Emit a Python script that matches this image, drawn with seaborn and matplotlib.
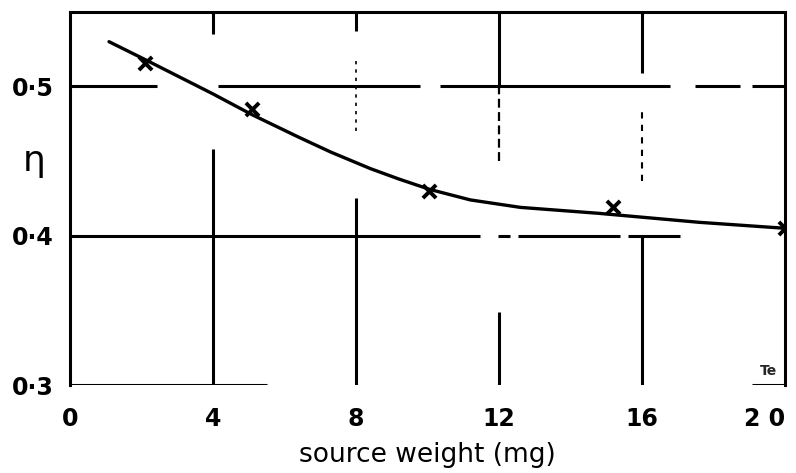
import pandas as pd
import seaborn as sns
import matplotlib.pyplot as plt

# measured points (source weight in mg, efficiency eta)
weight = [2.1, 5.1, 10.05, 15.2, 20.0]
eta = [0.516, 0.485, 0.430, 0.419, 0.405]

# hand-drawn smooth curve through the points
curve_w = [1.09, 2.1, 4.0, 5.1, 6.4, 7.3, 8.4, 9.2, 10.07, 11.2, 12.6, 14.8, 17.6, 20.0]
curve_eta = [0.530, 0.518, 0.495, 0.481, 0.466, 0.456, 0.445, 0.438, 0.431, 0.424, 0.419, 0.415, 0.409, 0.405]

x_ticks = [0, 4, 8, 12, 16, 20]
x_labels = ['0', '4', '8', '12', '16', '2 0']
y_ticks = [0.3, 0.4, 0.5]
y_labels = ['0·3', '0·4', '0·5']

pts = pd.DataFrame({'weight': weight, 'eta': eta})
curve = pd.DataFrame({'weight': curve_w, 'eta': curve_eta})

sns.set_style('white')
plt.rcParams['font.family'] = ['DejaVu Sans']

fig = plt.figure(figsize=(7.96, 4.73), dpi=100)
ax = fig.add_axes([0.088, 0.186, 0.898, 0.789])

lw = 2.2


def hseg(y, starts, ends, **kw):
    ax.hlines([y] * len(starts), starts, ends, color='black', **kw)


def vseg(x, starts, ends, **kw):
    ax.vlines([x] * len(starts), starts, ends, color='black', **kw)


# broken grid lines, as on the original drawing
hseg(0.5, [0, 4.14, 10.35, 17.48, 19.08], [2.43, 9.79, 16.78, 18.74, 20], lw=lw)
hseg(0.4, [0, 11.97, 12.53, 15.61], [11.47, 12.31, 15.38, 17.06], lw=lw)
vseg(4, [0.3, 0.535], [0.458, 0.55], lw=lw)
vseg(8, [0.3, 0.537], [0.425, 0.55], lw=lw)
vseg(8, [0.47], [0.52], lw=1.2, linestyles=(0, (2, 3)))
vseg(12, [0.3, 0.5], [0.349, 0.55], lw=lw)
vseg(12, [0.45], [0.5], lw=1.6, linestyles=(0, (4, 2)))
vseg(16, [0.3, 0.509], [0.4, 0.55], lw=lw)
vseg(16, [0.437], [0.483], lw=1.5, linestyles=(0, (3, 3)))
hseg(0.3, [0, 19.08], [5.5, 20], lw=lw)

sns.lineplot(data=curve, x='weight', y='eta', ax=ax, color='black', lw=2.4, sort=False)
sns.scatterplot(data=pts, x='weight', y='eta', ax=ax, marker='x', color='black',
                s=90, linewidth=2.8, zorder=5)

ax.set_xlim(0, 20)
ax.set_ylim(0.3, 0.55)
ax.set_xticks(x_ticks)
ax.set_xticklabels(x_labels, fontsize=17, fontweight='bold', color='black')
ax.get_xticklabels()[-1].set_ha('right')
ax.set_yticks(y_ticks)
ax.set_yticklabels(y_labels, fontsize=17, fontweight='bold', color='black')
ax.tick_params(length=0)
ax.tick_params(axis='x', pad=16)
ax.tick_params(axis='y', pad=12)

for side in ['left', 'top', 'right']:
    ax.spines[side].set_linewidth(lw)
    ax.spines[side].set_color('black')
ax.spines['bottom'].set_visible(False)

ax.set_xlabel('source weight (mg)', fontsize=19, labelpad=8, color='black')
ax.set_ylabel('η', fontsize=26, rotation=0, color='black', va='center', ha='center')
ax.yaxis.set_label_coords(-0.05, 0.6)
ax.text(19.55, 0.305, 'Te', fontsize=10, fontweight='bold', ha='center', va='bottom')

plt.savefig('out.png', dpi=100)
